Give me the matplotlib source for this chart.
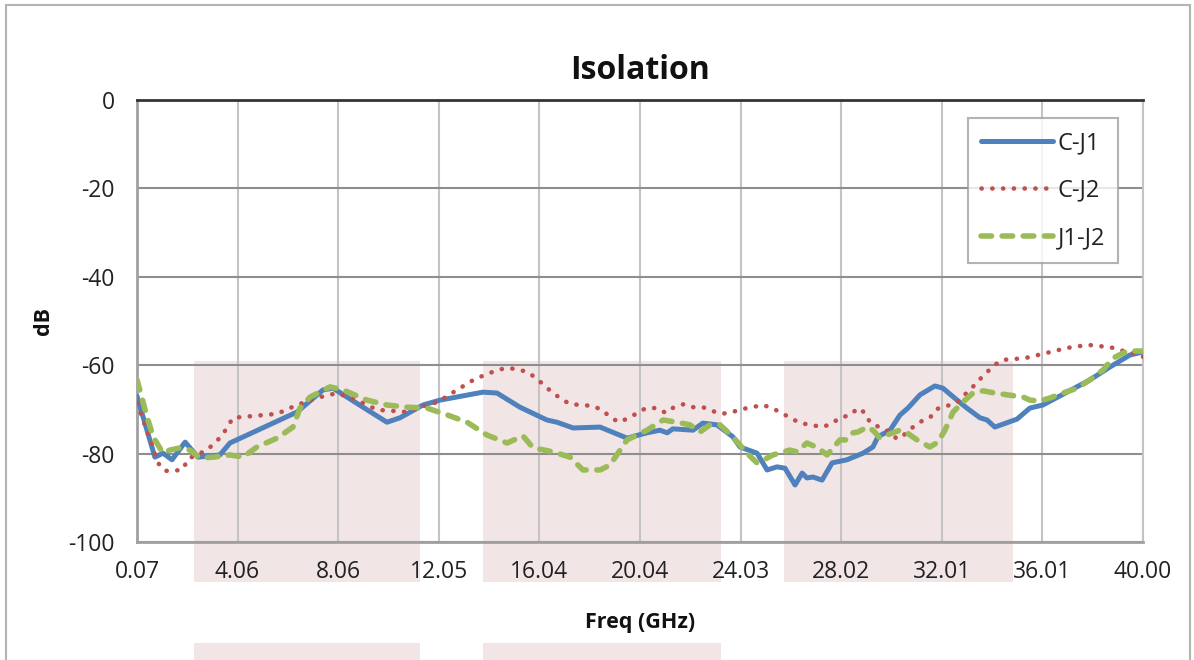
import numpy as np
import matplotlib
matplotlib.use("Agg")
import matplotlib.pyplot as plt
from matplotlib.patches import Rectangle

plt.rcParams['font.family'] = ['Open Sans', 'DejaVu Sans']

# ---- data (freq in GHz, isolation in dB) ----
cj1_f = [0.07, 0.78, 1.10, 1.46, 1.98, 2.49, 3.36, 3.76, 6.42, 7.45, 7.85, 9.04, 9.99,
         10.51, 11.42, 12.10, 13.80, 14.36, 15.27, 16.34, 16.74, 17.38, 18.45, 19.52,
         20.31, 20.83, 21.11, 21.34, 22.14, 22.53, 23.09, 23.72, 24.00, 24.68, 25.08,
         25.47, 25.79, 26.19, 26.47, 26.66, 26.90, 27.26, 27.66, 28.25, 28.89, 29.28,
         29.48, 29.96, 30.35, 30.67, 31.15, 31.74, 32.06, 32.62, 33.01, 33.53, 33.81,
         34.12, 35.00, 35.51, 36.03, 36.98, 37.90, 38.69, 39.48, 40.00]
cj1_db = [-67.0, -80.8, -79.9, -81.4, -77.4, -80.8, -80.3, -77.6, -70.6, -65.6, -65.2, -69.5, -72.9,
          -71.9, -69.0, -67.9, -66.1, -66.3, -69.5, -72.4, -72.9, -74.2, -74.0, -76.5,
          -75.3, -74.7, -75.3, -74.4, -74.7, -73.1, -73.5, -76.2, -78.5, -79.9, -83.7,
          -83.0, -83.3, -87.1, -84.4, -85.5, -85.3, -86.0, -82.1, -81.4, -79.9, -78.5,
          -76.2, -74.7, -71.3, -69.7, -66.7, -64.7, -65.2, -67.9, -69.7, -71.9, -72.4,
          -74.0, -72.2, -69.7, -69.0, -66.1, -63.3, -60.4, -57.7, -57.0]

cj2_f = [0.07, 0.59, 0.90, 1.18, 1.58, 1.90, 2.09, 2.85, 3.44, 3.88, 4.28, 5.63, 6.42,
         7.21, 8.01, 8.80, 9.60, 10.39, 10.79, 11.30, 12.02, 12.77, 13.49, 14.28, 14.72,
         15.15, 15.55, 15.91, 16.22, 16.54, 16.90, 17.26, 18.13, 18.53, 18.84, 19.20,
         19.60, 20.27, 20.67, 21.07, 21.38, 21.78, 22.14, 22.53, 22.93, 23.29, 23.69,
         24.12, 24.92, 25.35, 25.71, 26.39, 26.82, 27.26, 27.62, 27.97, 28.37, 28.69,
         28.97, 29.16, 29.52, 29.88, 30.24, 30.55, 30.87, 31.23, 31.54, 31.82, 32.22,
         32.58, 32.86, 33.17, 33.45, 33.77, 34.09, 34.44, 35.32, 36.19, 36.98, 37.82,
         38.29, 38.69, 39.09, 39.56, 40.00]
cj2_db = [-68.6, -76.9, -82.1, -83.9, -83.9, -83.5, -81.2, -79.2, -76.0, -71.9, -71.7, -71.0, -69.0,
          -67.4, -66.3, -67.9, -70.1, -70.4, -70.6, -69.5, -68.3, -65.6, -63.1, -61.3, -60.6,
          -60.9, -61.5, -62.9, -64.5, -66.1, -67.6, -68.8, -69.2, -70.1, -71.7, -72.9,
          -71.9, -69.7, -69.7, -70.8, -69.5, -68.8, -69.5, -69.5, -70.4, -71.0, -70.6,
          -69.9, -69.0, -69.9, -71.0, -73.1, -73.5, -74.0, -73.3, -71.9, -71.3, -69.7,
          -70.8, -72.9, -74.0, -74.9, -76.7, -75.6, -74.0, -72.6, -71.9, -69.9, -69.2,
          -68.6, -67.0, -65.4, -63.6, -61.8, -60.0, -58.8, -58.4, -57.2, -56.1, -55.4,
          -55.7, -55.9, -56.6, -57.2, -58.1]

j1j2_f = [0.07, 0.47, 0.71, 1.10, 1.38, 1.78, 2.17, 2.57, 3.09, 3.76, 4.28, 4.83, 5.63,
          6.26, 6.54, 6.94, 7.73, 8.25, 9.20, 9.99, 10.79, 11.58, 12.41, 13.17, 13.96,
          14.76, 15.39, 15.79, 16.58, 17.26, 17.77, 18.45, 18.84, 19.52, 20.31, 20.95,
          21.50, 22.02, 22.42, 22.81, 23.21, 23.72, 24.28, 24.68, 24.80, 25.31, 25.98,
          26.26, 26.66, 27.10, 27.46, 27.97, 28.25, 28.49, 28.69, 29.05, 29.28, 29.56,
          29.84, 30.35, 30.63, 31.03, 31.54, 31.86, 32.14, 32.46, 32.86, 33.25, 33.65,
          34.12, 34.60, 35.24, 35.51, 35.91, 36.31, 36.82, 37.38, 37.90, 38.41, 38.81,
          39.37, 40.00]
j1j2_db = [-63.3, -71.7, -76.2, -79.9, -79.2, -78.7, -79.2, -81.0, -80.8, -80.3, -80.8, -78.5, -76.5,
           -74.0, -69.7, -67.2, -64.9, -65.6, -67.9, -69.0, -69.5, -69.7, -71.3, -72.9, -75.8,
           -77.6, -76.0, -78.7, -79.6, -80.8, -83.7, -83.7, -82.6, -76.9, -74.7, -72.4,
           -72.9, -73.5, -75.1, -73.5, -73.5, -76.2, -79.9, -82.1, -81.9, -80.3, -79.2,
           -79.6, -77.6, -78.7, -80.3, -76.9, -76.9, -75.3, -75.1, -74.0, -74.7, -76.5,
           -75.8, -74.7, -75.3, -76.9, -78.5, -77.4, -74.7, -70.6, -68.3, -66.3, -65.8,
           -66.3, -66.7, -67.2, -67.9, -68.1, -67.4, -66.3, -65.2, -63.3, -61.1, -58.4,
           -56.8, -56.8]

xtick_labels = ['0.07', '4.06', '8.06', '12.05', '16.04', '20.04', '24.03',
                '28.02', '32.01', '36.01', '40.00']
ytick_vals = [0, -20, -40, -60, -80, -100]

W, H = 1194, 660
fig = plt.figure(figsize=(W / 100, H / 100), dpi=100)
fig.patch.set_facecolor('white')

# outer chart frame (bottom runs off the picture)
fig.patches.append(Rectangle((6 / W, -0.2), 1184 / W, 1.2 - 5 / H, transform=fig.transFigure,
                             fill=False, edgecolor='#b4b4b4', lw=1.5, zorder=-2))

# pink highlight boxes behind the plot (pixel spans)
pink = '#f2e5e6'
for x0, x1 in [(194, 420), (483, 721), (784, 1013)]:
    fig.patches.append(Rectangle((x0 / W, 1 - 582 / H), (x1 - x0) / W, (582 - 361) / H,
                                 transform=fig.transFigure, color=pink, lw=0, zorder=-1))
for x0, x1 in [(194, 420), (483, 721)]:
    fig.patches.append(Rectangle((x0 / W, 0), (x1 - x0) / W, 17 / H,
                                 transform=fig.transFigure, color=pink, lw=0, zorder=-1))

ax = fig.add_axes([137 / W, 1 - 542 / H, (1143 - 137) / W, (542 - 100) / H])
ax.set_facecolor('none')

ax.plot(cj1_f, cj1_db, color='#4f81bd', lw=3.6, solid_joinstyle='round',
        solid_capstyle='round', label='C-J1', zorder=3)
ax.plot(cj2_f, cj2_db, color='#c0504d', lw=3.3, linestyle=(0, (0.05, 2.3)),
        dash_capstyle='round', label='C-J2', zorder=3)
ax.plot(j1j2_f, j1j2_db, color='#9bbb59', lw=4.0, linestyle=(0, (1.9, 1.9)),
        dash_capstyle='round', label='J1-J2', zorder=3)

ax.set_xlim(0.07, 40.0)
ax.set_ylim(-100, 0)
ax.set_xticks([float(s) for s in xtick_labels])
ax.set_xticklabels(xtick_labels)
ax.set_yticks(ytick_vals)
ax.set_yticklabels([str(v) for v in ytick_vals])
ax.tick_params(length=0, labelsize=16.5, colors='#222222')
ax.tick_params(axis='x', pad=13)
ax.tick_params(axis='y', pad=16)

ax.grid(axis='x', color='#c4c4c4', lw=1.5, zorder=1)
ax.grid(axis='y', color='#8e8e8e', lw=1.5, zorder=1)
ax.set_axisbelow(True)
ax.spines['top'].set_color('#333333')
ax.spines['top'].set_linewidth(2)
ax.spines['left'].set_color('#a0a0a0')
ax.spines['left'].set_linewidth(2)
ax.spines['bottom'].set_color('#a0a0a0')
ax.spines['bottom'].set_linewidth(2)
ax.spines['right'].set_color('#c4c4c4')
ax.spines['right'].set_linewidth(1.5)

ax.set_title('Isolation', fontsize=23, fontweight='bold', color='#111111', pad=15)
ax.set_xlabel('Freq (GHz)', fontsize=15.5, fontweight='bold', color='#111111', labelpad=20)
ax.set_ylabel('dB', fontsize=15.5, fontweight='bold', color='#111111', labelpad=10)

leg = ax.legend(loc='upper left', bbox_to_anchor=((968 - 137) / 1006, (542 - 118) / 442),
                borderaxespad=0, fontsize=17, frameon=True, fancybox=False, handlelength=3.05,
                labelspacing=1.0, borderpad=0.55, handletextpad=0.2)
leg.get_frame().set_edgecolor('#a0a0a0')
leg.get_frame().set_linewidth(1.5)
for t in leg.get_texts():
    t.set_color('#222222')

fig.savefig('out.png', dpi=100)
